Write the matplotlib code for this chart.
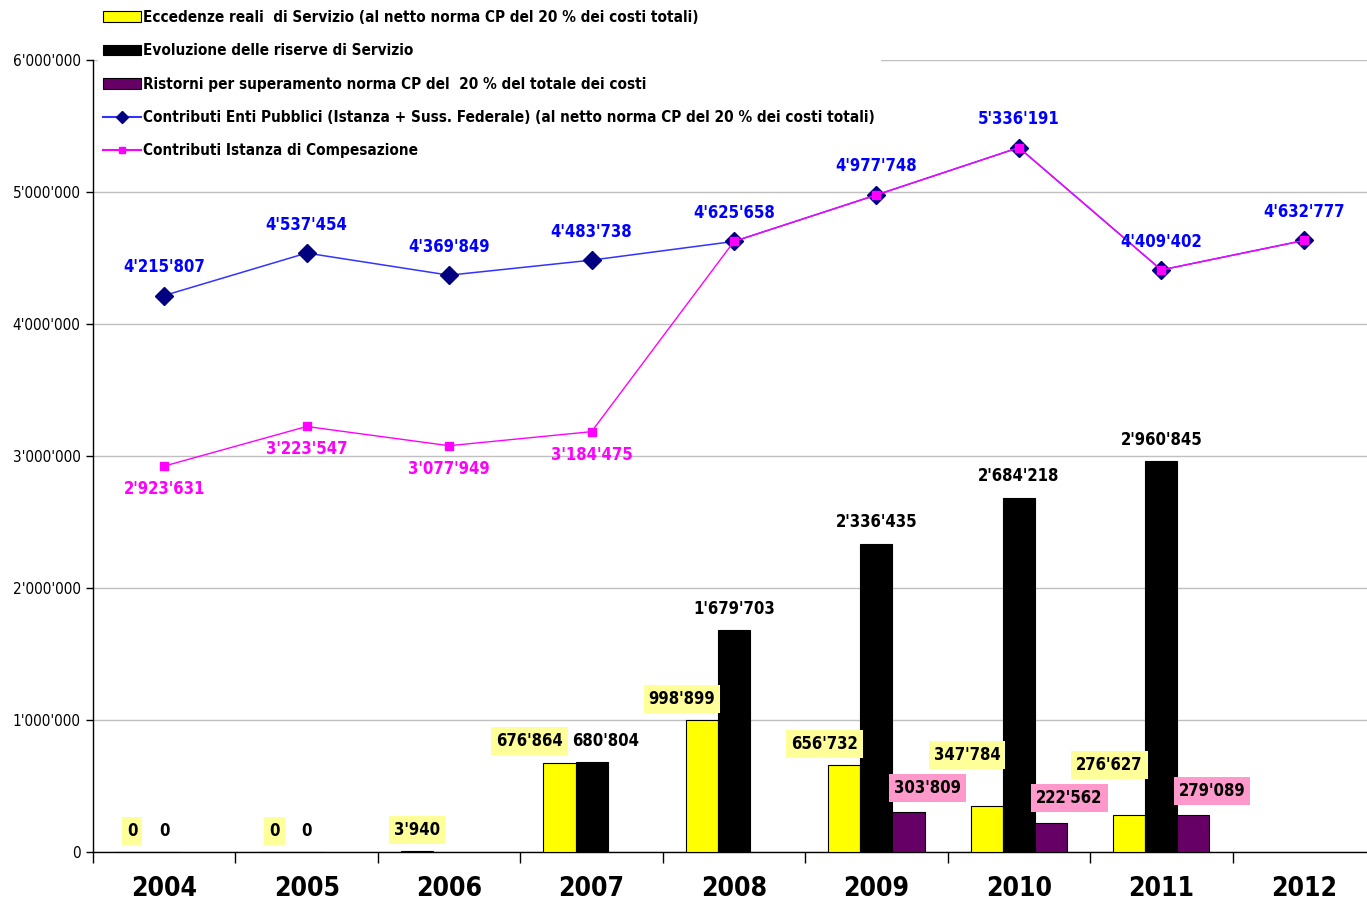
import numpy as np
import matplotlib.pyplot as plt
from matplotlib.patches import Patch
from matplotlib.lines import Line2D

plt.rcParams['font.family'] = ['DejaVu Sans']
plt.rcParams['font.stretch'] = 'condensed'

anni = ['2004', '2005', '2006', '2007', '2008', '2009', '2010', '2011', '2012']
nan = np.nan

eccedenze = [0, 0, 3940, 676864, 998899, 656732, 347784, 276627, nan]
riserve = [0, 0, nan, 680804, 1679703, 2336435, 2684218, 2960845, nan]
ristorni = [nan, nan, nan, nan, nan, 303809, 222562, 279089, nan]
contributi_enti = [4215807, 4537454, 4369849, 4483738, 4625658, 4977748, 5336191, 4409402, 4632777]
contributi_istanza = [2923631, 3223547, 3077949, 3184475, 4625658, 4977748, 5336191, 4409402, 4632777]

leg_labels = [
    'Eccedenze reali  di Servizio (al netto norma CP del 20 % dei costi totali)',
    'Evoluzione delle riserve di Servizio',
    'Ristorni per superamento norma CP del  20 % del totale dei costi',
    'Contributi Enti Pubblici (Istanza + Suss. Federale) (al netto norma CP del 20 % dei costi totali)',
    'Contributi Istanza di Compesazione',
]


def fmt(v):
    return f"{int(v):,}".replace(",", "'")


fig = plt.figure(figsize=(13.67, 9.0), dpi=100)
ax = fig.add_axes([93 / 1367, 1 - 852 / 900, 1282 / 1367, 792 / 900])

x = np.arange(len(anni))
w = 0.225

ax.bar(x - w, eccedenze, w, color='#FFFF00', edgecolor='black', linewidth=0.8, zorder=3)
ax.bar(x, riserve, w, color='black', edgecolor='black', linewidth=0.8, zorder=3)
ax.bar(x + w, ristorni, w, color='#660066', edgecolor='black', linewidth=0.8, zorder=3)

ax.plot(x, contributi_enti, color='#3333FF', lw=1.1, marker='D', ms=9,
        mfc='#000080', mec='#000080', zorder=4)
ax.plot(x, contributi_istanza, color='#FF00FF', lw=1.0, marker='s', ms=6,
        mfc='#FF00FF', mec='#FF00FF', zorder=5)

lab = dict(fontsize=12, fontweight='bold', ha='center', zorder=7)


def vicini(i):
    # barra gialla e nera quasi alla stessa altezza: le etichette si scostano
    a, b = eccedenze[i], riserve[i]
    return a > 10000 and not np.isnan(b) and abs(a - b) < 150000


# etichette barre gialle: spostate a sinistra, più in alto se la barra nera accanto è alta
for i, v in enumerate(eccedenze):
    if np.isnan(v):
        continue
    dx = 0 if v < 10000 else (-0.21 if vicini(i) else -0.14)
    dy = 30 if (v < 500000 and riserve[i] > 2000000) else 9
    ax.annotate(fmt(v), (x[i] - w + dx, v), xytext=(0, dy), textcoords='offset points',
                va='bottom', color='black',
                bbox=dict(boxstyle='square,pad=0.3', fc='#FFFF99', ec='none'), **lab)
for i, v in enumerate(riserve):
    if np.isnan(v):
        continue
    dx = 0.1 if vicini(i) else 0
    ax.annotate(fmt(v), (x[i] + dx, v), xytext=(0, 9), textcoords='offset points',
                va='bottom', color='black', **lab)
for i, v in enumerate(ristorni):
    if np.isnan(v):
        continue
    ax.annotate(fmt(v), (x[i] + w + 0.13, v), xytext=(0, 11), textcoords='offset points',
                va='bottom', color='black',
                bbox=dict(boxstyle='square,pad=0.3', fc='#FF99CC', ec='none'), **lab)

# etichette linee
for i, v in enumerate(contributi_enti):
    ax.annotate(fmt(v), (x[i], v), xytext=(0, 14), textcoords='offset points',
                va='bottom', color='#0000FF', **lab)
for i, v in enumerate(contributi_istanza[:4]):
    ax.annotate(fmt(v), (x[i], v), xytext=(0, -10), textcoords='offset points',
                va='top', color='#FF00FF', **lab)

ax.set_xlim(-0.5, len(anni) - 0.5)
ax.set_ylim(0, 6000000)
ax.set_yticks(np.arange(0, 6000001, 1000000))
ax.set_yticklabels([fmt(t) for t in np.arange(0, 6000001, 1000000)], fontsize=11)
ax.yaxis.grid(True, color='#C0C0C0', lw=1.0, zorder=0)
ax.set_axisbelow(True)

ax.set_xticks(x)
ax.set_xticklabels(anni, fontsize=19, fontweight='bold')
ax.set_xticks(np.arange(-0.5, len(anni) + 0.5, 1), minor=True)
ax.tick_params(axis='x', which='major', length=0, pad=17)
ax.tick_params(axis='x', which='minor', length=8, direction='out', width=1)
ax.tick_params(axis='y', length=5, direction='out', width=1, pad=4)

for s in ['top', 'right']:
    ax.spines[s].set_visible(False)
ax.spines['left'].set_linewidth(1)
ax.spines['bottom'].set_linewidth(1)

handles = [
    Patch(fc='#FFFF00', ec='black', lw=0.8),
    Patch(fc='black', ec='black', lw=0.8),
    Patch(fc='#660066', ec='black', lw=0.8),
    Line2D([], [], color='#3333FF', marker='D', ms=6, mfc='#000080', mec='#000080'),
    Line2D([], [], color='#FF00FF', marker='s', ms=5, mfc='#FF00FF', mec='#FF00FF'),
]
# legenda sopra la griglia ma sotto le etichette dei valori
leg = ax.legend(handles, leg_labels, loc='upper left', bbox_to_anchor=(93 / 1367, 1.0),
                bbox_transform=fig.transFigure,
                frameon=True, fancybox=False, edgecolor='white', facecolor='white',
                framealpha=1, prop=dict(size=11, weight='bold'), labelspacing=1.2,
                handlelength=2.5, handletextpad=0.1, borderpad=0.35, borderaxespad=0.3)
leg.set_zorder(6)

fig.savefig('out.png', dpi=100)
